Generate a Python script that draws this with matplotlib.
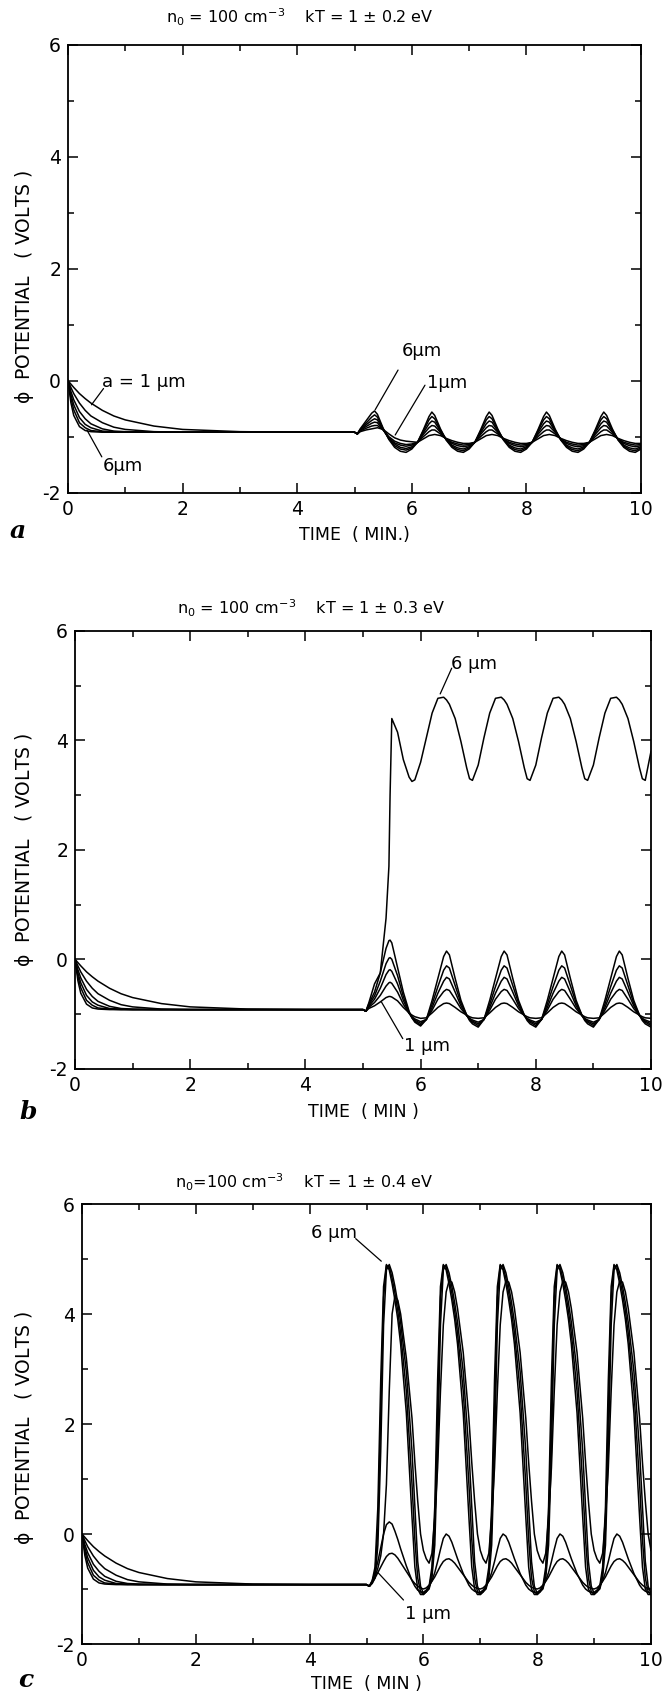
import matplotlib.pyplot as plt

plt.rcParams['font.family'] = ['DejaVu Sans']
plt.rcParams['axes.unicode_minus'] = False
plt.rcParams['mathtext.default'] = 'regular'

# grain radius a = 1 ... 6 um, charging from 0 V (first 5 min are the same in every panel)
DECAY_T = [0, 0.05, 0.1, 0.2, 0.3, 0.4, 0.6, 0.8, 1.0, 1.5, 2.0, 3.0, 4.0, 5.0]
DECAY_1UM = [0, -0.06, -0.12, -0.23, -0.32, -0.40, -0.53, -0.63, -0.70, -0.81, -0.87, -0.91, -0.92, -0.92]
DECAY_2UM = [0, -0.12, -0.23, -0.40, -0.53, -0.63, -0.75, -0.83, -0.87, -0.91, -0.92, -0.92, -0.92, -0.92]
DECAY_3UM = [0, -0.19, -0.34, -0.55, -0.68, -0.77, -0.86, -0.90, -0.91, -0.92, -0.92, -0.92, -0.92, -0.92]
DECAY_4UM = [0, -0.25, -0.43, -0.66, -0.78, -0.84, -0.90, -0.91, -0.92, -0.92, -0.92, -0.92, -0.92, -0.92]
DECAY_5UM = [0, -0.31, -0.52, -0.75, -0.84, -0.89, -0.91, -0.92, -0.92, -0.92, -0.92, -0.92, -0.92, -0.92]
DECAY_6UM = [0, -0.39, -0.62, -0.82, -0.89, -0.91, -0.92, -0.92, -0.92, -0.92, -0.92, -0.92, -0.92, -0.92]

# ---- panel a : kT = 1 +- 0.2 eV ----
OSC_T_A = [5.05,
           5.1, 5.2, 5.3, 5.35, 5.4, 5.5, 5.6, 5.7, 5.8, 5.9, 6.0,
           6.1, 6.2, 6.3, 6.35, 6.4, 6.5, 6.6, 6.7, 6.8, 6.9, 7.0,
           7.1, 7.2, 7.3, 7.35, 7.4, 7.5, 7.6, 7.7, 7.8, 7.9, 8.0,
           8.1, 8.2, 8.3, 8.35, 8.4, 8.5, 8.6, 8.7, 8.8, 8.9, 9.0,
           9.1, 9.2, 9.3, 9.35, 9.4, 9.5, 9.6, 9.7, 9.8, 9.9, 10.0]
OSC_A_1UM = [-0.95,
             -0.91, -0.88, -0.86, -0.85, -0.84, -0.87, -0.95, -1.02, -1.06, -1.08, -1.09,
             -1.10, -1.04, -0.98, -0.97, -0.96, -0.98, -1.03, -1.07, -1.10, -1.12, -1.12,
             -1.10, -1.04, -0.98, -0.97, -0.96, -0.98, -1.03, -1.07, -1.10, -1.12, -1.12,
             -1.10, -1.04, -0.98, -0.97, -0.96, -0.98, -1.03, -1.07, -1.10, -1.12, -1.12,
             -1.10, -1.04, -0.98, -0.97, -0.96, -0.98, -1.03, -1.07, -1.10, -1.12, -1.12]
OSC_A_2UM = [-0.95,
             -0.90, -0.85, -0.81, -0.80, -0.80, -0.88, -1.00, -1.08, -1.12, -1.14, -1.13,
             -1.10, -1.00, -0.91, -0.88, -0.88, -0.95, -1.04, -1.10, -1.13, -1.15, -1.14,
             -1.10, -1.00, -0.91, -0.88, -0.88, -0.95, -1.04, -1.10, -1.13, -1.15, -1.14,
             -1.10, -1.00, -0.91, -0.88, -0.88, -0.95, -1.04, -1.10, -1.13, -1.15, -1.14,
             -1.10, -1.00, -0.91, -0.88, -0.88, -0.95, -1.04, -1.10, -1.13, -1.15, -1.14]
OSC_A_3UM = [-0.95,
             -0.89, -0.82, -0.76, -0.74, -0.75, -0.88, -1.02, -1.11, -1.15, -1.17, -1.15,
             -1.10, -0.96, -0.84, -0.80, -0.81, -0.92, -1.04, -1.12, -1.16, -1.18, -1.16,
             -1.10, -0.96, -0.84, -0.80, -0.81, -0.92, -1.04, -1.12, -1.16, -1.18, -1.16,
             -1.10, -0.96, -0.84, -0.80, -0.81, -0.92, -1.04, -1.12, -1.16, -1.18, -1.16,
             -1.10, -0.96, -0.84, -0.80, -0.81, -0.92, -1.04, -1.12, -1.16, -1.18, -1.16]
OSC_A_4UM = [-0.95,
             -0.88, -0.79, -0.71, -0.68, -0.70, -0.87, -1.03, -1.13, -1.19, -1.21, -1.18,
             -1.10, -0.93, -0.77, -0.72, -0.74, -0.90, -1.05, -1.15, -1.20, -1.22, -1.18,
             -1.10, -0.93, -0.77, -0.72, -0.74, -0.90, -1.05, -1.15, -1.20, -1.22, -1.18,
             -1.10, -0.93, -0.77, -0.72, -0.74, -0.90, -1.05, -1.15, -1.20, -1.22, -1.18,
             -1.10, -0.93, -0.77, -0.72, -0.74, -0.90, -1.05, -1.15, -1.20, -1.22, -1.18]
OSC_A_5UM = [-0.95,
             -0.87, -0.76, -0.65, -0.61, -0.65, -0.86, -1.04, -1.16, -1.22, -1.24, -1.20,
             -1.10, -0.90, -0.70, -0.64, -0.68, -0.88, -1.05, -1.17, -1.23, -1.25, -1.20,
             -1.10, -0.90, -0.70, -0.64, -0.68, -0.88, -1.05, -1.17, -1.23, -1.25, -1.20,
             -1.10, -0.90, -0.70, -0.64, -0.68, -0.88, -1.05, -1.17, -1.23, -1.25, -1.20,
             -1.10, -0.90, -0.70, -0.64, -0.68, -0.88, -1.05, -1.17, -1.23, -1.25, -1.20]
OSC_A_6UM = [-0.95,
             -0.86, -0.72, -0.58, -0.54, -0.60, -0.85, -1.05, -1.19, -1.26, -1.28, -1.22,
             -1.10, -0.88, -0.64, -0.56, -0.62, -0.86, -1.06, -1.19, -1.26, -1.28, -1.22,
             -1.10, -0.88, -0.64, -0.56, -0.62, -0.86, -1.06, -1.19, -1.26, -1.28, -1.22,
             -1.10, -0.88, -0.64, -0.56, -0.62, -0.86, -1.06, -1.19, -1.26, -1.28, -1.22,
             -1.10, -0.88, -0.64, -0.56, -0.62, -0.86, -1.06, -1.19, -1.26, -1.28, -1.22]

# ---- panel b : kT = 1 +- 0.3 eV ----
OSC_T_B = [5.05,
           5.1, 5.2, 5.3, 5.4, 5.45, 5.47, 5.5, 5.6, 5.7, 5.8, 5.85, 5.9, 6.0,
           6.1, 6.2, 6.3, 6.4, 6.45, 6.5, 6.6, 6.7, 6.8, 6.85, 6.9, 7.0,
           7.1, 7.2, 7.3, 7.4, 7.45, 7.5, 7.6, 7.7, 7.8, 7.85, 7.9, 8.0,
           8.1, 8.2, 8.3, 8.4, 8.45, 8.5, 8.6, 8.7, 8.8, 8.85, 8.9, 9.0,
           9.1, 9.2, 9.3, 9.4, 9.45, 9.5, 9.6, 9.7, 9.8, 9.85, 9.9, 10.0]
OSC_B_1UM = [-0.95,
             -0.90, -0.85, -0.78, -0.70, -0.68, -0.68, -0.69, -0.76, -0.88, -0.98, -1.02, -1.05, -1.08,
             -1.07, -0.98, -0.88, -0.81, -0.80, -0.81, -0.88, -0.96, -1.02, -1.05, -1.07, -1.08,
             -1.07, -0.98, -0.88, -0.81, -0.80, -0.81, -0.88, -0.96, -1.02, -1.05, -1.07, -1.08,
             -1.07, -0.98, -0.88, -0.81, -0.80, -0.81, -0.88, -0.96, -1.02, -1.05, -1.07, -1.08,
             -1.07, -0.98, -0.88, -0.81, -0.80, -0.81, -0.88, -0.96, -1.02, -1.05, -1.07, -1.08]
OSC_B_2UM = [-0.95,
             -0.88, -0.79, -0.66, -0.49, -0.43, -0.42, -0.44, -0.60, -0.82, -0.99, -1.05, -1.09, -1.14,
             -1.10, -0.93, -0.73, -0.59, -0.55, -0.57, -0.73, -0.90, -1.03, -1.08, -1.11, -1.15,
             -1.10, -0.93, -0.73, -0.59, -0.55, -0.57, -0.73, -0.90, -1.03, -1.08, -1.11, -1.15,
             -1.10, -0.93, -0.73, -0.59, -0.55, -0.57, -0.73, -0.90, -1.03, -1.08, -1.11, -1.15,
             -1.10, -0.93, -0.73, -0.59, -0.55, -0.57, -0.73, -0.90, -1.03, -1.08, -1.11, -1.15]
OSC_B_3UM = [-0.95,
             -0.86, -0.73, -0.53, -0.28, -0.20, -0.19, -0.22, -0.45, -0.75, -0.98, -1.06, -1.11, -1.17,
             -1.10, -0.88, -0.62, -0.40, -0.33, -0.36, -0.60, -0.85, -1.03, -1.09, -1.13, -1.18,
             -1.10, -0.88, -0.62, -0.40, -0.33, -0.36, -0.60, -0.85, -1.03, -1.09, -1.13, -1.18,
             -1.10, -0.88, -0.62, -0.40, -0.33, -0.36, -0.60, -0.85, -1.03, -1.09, -1.13, -1.18,
             -1.10, -0.88, -0.62, -0.40, -0.33, -0.36, -0.60, -0.85, -1.03, -1.09, -1.13, -1.18]
OSC_B_4UM = [-0.95,
             -0.84, -0.67, -0.40, -0.08, 0.02, 0.03, 0.00, -0.30, -0.68, -0.97, -1.07, -1.13, -1.20,
             -1.10, -0.82, -0.50, -0.20, -0.12, -0.16, -0.48, -0.80, -1.02, -1.10, -1.15, -1.21,
             -1.10, -0.82, -0.50, -0.20, -0.12, -0.16, -0.48, -0.80, -1.02, -1.10, -1.15, -1.21,
             -1.10, -0.82, -0.50, -0.20, -0.12, -0.16, -0.48, -0.80, -1.02, -1.10, -1.15, -1.21,
             -1.10, -0.82, -0.50, -0.20, -0.12, -0.16, -0.48, -0.80, -1.02, -1.10, -1.15, -1.21]
OSC_B_5UM = [-0.95,
             -0.82, -0.60, -0.25, 0.20, 0.34, 0.35, 0.30, -0.15, -0.60, -0.95, -1.07, -1.15, -1.22,
             -1.10, -0.75, -0.35, 0.05, 0.15, 0.08, -0.35, -0.75, -1.02, -1.12, -1.18, -1.24,
             -1.10, -0.75, -0.35, 0.05, 0.15, 0.08, -0.35, -0.75, -1.02, -1.12, -1.18, -1.24,
             -1.10, -0.75, -0.35, 0.05, 0.15, 0.08, -0.35, -0.75, -1.02, -1.12, -1.18, -1.24,
             -1.10, -0.75, -0.35, 0.05, 0.15, 0.08, -0.35, -0.75, -1.02, -1.12, -1.18, -1.24]
OSC_B_6UM = [-0.95,
             -0.80, -0.45, -0.25, 0.75, 1.70, 3.00, 4.40, 4.15, 3.65, 3.33, 3.25, 3.28, 3.60,
             4.05, 4.50, 4.77, 4.79, 4.74, 4.66, 4.40, 3.98, 3.50, 3.30, 3.27, 3.55,
             4.05, 4.50, 4.77, 4.79, 4.74, 4.66, 4.40, 3.98, 3.50, 3.30, 3.27, 3.55,
             4.05, 4.50, 4.77, 4.79, 4.74, 4.66, 4.40, 3.98, 3.50, 3.30, 3.27, 3.55,
             4.05, 4.50, 4.77, 4.79, 4.74, 4.66, 4.40, 3.98, 3.50, 3.30, 3.27, 3.80]

# ---- panel c : kT = 1 +- 0.4 eV ----
OSC_T_C = [5.05, 5.1, 5.15, 5.2, 5.25, 5.3, 5.35, 5.4, 5.45, 5.5, 5.55, 5.6, 5.7, 5.8, 5.85, 5.9, 5.95, 6.0,
           6.05, 6.1, 6.15, 6.2, 6.25, 6.3, 6.35, 6.4, 6.45, 6.5, 6.55, 6.6, 6.7, 6.8, 6.85, 6.9, 6.95, 7.0,
           7.05, 7.1, 7.15, 7.2, 7.25, 7.3, 7.35, 7.4, 7.45, 7.5, 7.55, 7.6, 7.7, 7.8, 7.85, 7.9, 7.95, 8.0,
           8.05, 8.1, 8.15, 8.2, 8.25, 8.3, 8.35, 8.4, 8.45, 8.5, 8.55, 8.6, 8.7, 8.8, 8.85, 8.9, 8.95, 9.0,
           9.05, 9.1, 9.15, 9.2, 9.25, 9.3, 9.35, 9.4, 9.45, 9.5, 9.55, 9.6, 9.7, 9.8, 9.85, 9.9, 9.95, 10.0]
OSC_C_1UM = [-0.95, -0.88, -0.80, -0.70, -0.60, -0.50, -0.41, -0.36, -0.35, -0.38, -0.44, -0.52, -0.68, -0.84, -0.90, -0.95, -0.98, -1.00,
             -0.98, -0.93, -0.86, -0.78, -0.68, -0.58, -0.50, -0.46, -0.45, -0.48, -0.53, -0.60, -0.74, -0.88, -0.93, -0.97, -0.99, -1.00,
             -0.98, -0.93, -0.86, -0.78, -0.68, -0.58, -0.50, -0.46, -0.45, -0.48, -0.53, -0.60, -0.74, -0.88, -0.93, -0.97, -0.99, -1.00,
             -0.98, -0.93, -0.86, -0.78, -0.68, -0.58, -0.50, -0.46, -0.45, -0.48, -0.53, -0.60, -0.74, -0.88, -0.93, -0.97, -0.99, -1.00,
             -0.98, -0.93, -0.86, -0.78, -0.68, -0.58, -0.50, -0.46, -0.45, -0.48, -0.53, -0.60, -0.74, -0.88, -0.93, -0.97, -0.99, -1.00]
OSC_C_2UM = [-0.95, -0.85, -0.70, -0.50, -0.25, 0.00, 0.17, 0.22, 0.18, 0.05, -0.10, -0.27, -0.58, -0.85, -0.95, -1.02, -1.05, -1.06,
             -1.02, -0.95, -0.85, -0.70, -0.50, -0.28, -0.08, 0.00, -0.04, -0.15, -0.30, -0.45, -0.72, -0.93, -1.00, -1.04, -1.06, -1.06,
             -1.02, -0.95, -0.85, -0.70, -0.50, -0.28, -0.08, 0.00, -0.04, -0.15, -0.30, -0.45, -0.72, -0.93, -1.00, -1.04, -1.06, -1.06,
             -1.02, -0.95, -0.85, -0.70, -0.50, -0.28, -0.08, 0.00, -0.04, -0.15, -0.30, -0.45, -0.72, -0.93, -1.00, -1.04, -1.06, -1.06,
             -1.02, -0.95, -0.85, -0.70, -0.50, -0.28, -0.08, 0.00, -0.04, -0.15, -0.30, -0.45, -0.72, -0.93, -1.00, -1.04, -1.06, -1.06]
OSC_C_3UM = [-0.95, -0.88, -0.78, -0.62, -0.40, 0.00, 0.90, 2.60, 4.00, 4.33, 4.25, 4.00, 3.20, 2.10, 1.30, 0.60, 0.00, -0.30,
             -0.45, -0.53, -0.35, 0.30, 1.20, 2.60, 3.80, 4.40, 4.60, 4.58, 4.40, 4.10, 3.30, 2.10, 1.30, 0.60, 0.00, -0.30,
             -0.45, -0.53, -0.35, 0.30, 1.20, 2.60, 3.80, 4.40, 4.60, 4.58, 4.40, 4.10, 3.30, 2.10, 1.30, 0.60, 0.00, -0.30,
             -0.45, -0.53, -0.35, 0.30, 1.20, 2.60, 3.80, 4.40, 4.60, 4.58, 4.40, 4.10, 3.30, 2.10, 1.30, 0.60, 0.00, -0.30,
             -0.45, -0.53, -0.35, 0.30, 1.20, 2.60, 3.80, 4.40, 4.60, 4.58, 4.40, 4.10, 3.30, 2.10, 1.30, 0.60, 0.00, -0.30]
OSC_C_4UM = [-0.95, -0.90, -0.80, -0.20, 1.50, 3.80, 4.80, 4.90, 4.75, 4.50, 4.20, 3.85, 2.95, 1.50, 0.50, -0.50, -0.95, -1.08,
             -1.05, -1.00, -0.80, -0.20, 1.50, 3.80, 4.80, 4.90, 4.75, 4.50, 4.20, 3.85, 2.95, 1.50, 0.50, -0.50, -0.95, -1.08,
             -1.05, -1.00, -0.80, -0.20, 1.50, 3.80, 4.80, 4.90, 4.75, 4.50, 4.20, 3.85, 2.95, 1.50, 0.50, -0.50, -0.95, -1.08,
             -1.05, -1.00, -0.80, -0.20, 1.50, 3.80, 4.80, 4.90, 4.75, 4.50, 4.20, 3.85, 2.95, 1.50, 0.50, -0.50, -0.95, -1.08,
             -1.05, -1.00, -0.80, -0.20, 1.50, 3.80, 4.80, 4.90, 4.75, 4.50, 4.20, 3.85, 2.95, 1.50, 0.50, -0.50, -0.95, -1.08]
OSC_C_5UM = [-0.95, -0.88, -0.70, 0.10, 2.20, 4.30, 4.88, 4.86, 4.65, 4.38, 4.05, 3.65, 2.60, 0.90, -0.10, -0.80, -1.05, -1.10,
             -1.05, -0.98, -0.70, 0.10, 2.20, 4.30, 4.88, 4.86, 4.65, 4.38, 4.05, 3.65, 2.60, 0.90, -0.10, -0.80, -1.05, -1.10,
             -1.05, -0.98, -0.70, 0.10, 2.20, 4.30, 4.88, 4.86, 4.65, 4.38, 4.05, 3.65, 2.60, 0.90, -0.10, -0.80, -1.05, -1.10,
             -1.05, -0.98, -0.70, 0.10, 2.20, 4.30, 4.88, 4.86, 4.65, 4.38, 4.05, 3.65, 2.60, 0.90, -0.10, -0.80, -1.05, -1.10,
             -1.05, -0.98, -0.70, 0.10, 2.20, 4.30, 4.88, 4.86, 4.65, 4.38, 4.05, 3.65, 2.60, 0.90, -0.10, -0.80, -1.05, -1.10]
OSC_C_6UM = [-0.95, -0.85, -0.60, 0.50, 2.80, 4.50, 4.90, 4.80, 4.55, 4.25, 3.90, 3.45, 2.20, 0.30, -0.60, -1.00, -1.10, -1.10,
             -1.05, -0.95, -0.60, 0.50, 2.80, 4.50, 4.90, 4.80, 4.55, 4.25, 3.90, 3.45, 2.20, 0.30, -0.60, -1.00, -1.10, -1.10,
             -1.05, -0.95, -0.60, 0.50, 2.80, 4.50, 4.90, 4.80, 4.55, 4.25, 3.90, 3.45, 2.20, 0.30, -0.60, -1.00, -1.10, -1.10,
             -1.05, -0.95, -0.60, 0.50, 2.80, 4.50, 4.90, 4.80, 4.55, 4.25, 3.90, 3.45, 2.20, 0.30, -0.60, -1.00, -1.10, -1.10,
             -1.05, -0.95, -0.60, 0.50, 2.80, 4.50, 4.90, 4.80, 4.55, 4.25, 3.90, 3.45, 2.20, 0.30, -0.60, -1.00, -1.10, -1.10]

DECAYS = [DECAY_1UM, DECAY_2UM, DECAY_3UM, DECAY_4UM, DECAY_5UM, DECAY_6UM]

TITLES = [r'n$_0$ = 100 cm$^{-3}$    kT = 1 $\pm$ 0.2 eV',
          r'n$_0$ = 100 cm$^{-3}$    kT = 1 $\pm$ 0.3 eV',
          r'n$_0$=100 cm$^{-3}$    kT = 1 $\pm$ 0.4 eV']
XLABELS = ['TIME  ( MIN.)', 'TIME  ( MIN )', 'TIME  ( MIN )']
LETTERS = ['a', 'b', 'c']


def draw_panel(ax, osc_t, osc_curves, title, xlabel, letter, lay):
  times = DECAY_T + osc_t
  for decay, osc in zip(DECAYS, osc_curves):
    ax.plot(times, decay + osc, color='black', lw=1.1, solid_joinstyle='round')

  ax.set_xlim(0, 10)
  ax.set_ylim(-2, 6)
  ax.set_xticks(range(0, 11, 2))
  ax.set_xticks(range(1, 10, 2), minor=True)
  ax.set_yticks(range(-2, 7, 2))
  ax.set_yticks(range(-1, 6, 2), minor=True)
  ax.tick_params(which='both', direction='in', top=True, right=True,
                 width=1.1, labelsize=13.5, pad=5)
  ax.tick_params(which='major', length=7)
  ax.tick_params(which='minor', length=4.5)
  for s in ax.spines.values():
    s.set_linewidth(1.3)

  # titles
  ax.text(lay['title_x'], lay['title_y'], title, transform=ax.transAxes,
          ha='center', va='center', fontsize=11.5)
  ax.text(0.5, lay['xlab_y'], xlabel, transform=ax.transAxes,
          ha='center', va='center', fontsize=12.5)
  ax.text(lay['ylab_x'], lay['ylab_y'], r'$\phi$  POTENTIAL   ( VOLTS )',
          transform=ax.transAxes, rotation=90, ha='center', va='center', fontsize=13.5)
  ax.text(lay['let_x'], lay['let_y'], letter, transform=ax.transAxes,
          ha='center', va='center', fontsize=18, fontweight='bold',
          fontstyle='italic', family='DejaVu Serif')


def label(ax, text, xy_text, start, end, ha='left'):
  ax.text(xy_text[0], xy_text[1], text, ha=ha, va='center', fontsize=13)
  ax.annotate('', xy=end, xytext=start,
              arrowprops=dict(arrowstyle='-', lw=0.9, color='black',
                              shrinkA=0, shrinkB=0))


fig = plt.figure(figsize=(6.72, 16.93), dpi=100)
H = 1693.0
W = 672.0
ax_a = fig.add_axes([68 / W, 1 - 492.7 / H, 573 / W, 448 / H])
ax_b = fig.add_axes([75 / W, 1 - 1068.7 / H, 576 / W, 437.7 / H])
ax_c = fig.add_axes([82 / W, 1 - 1644 / H, 569 / W, 440 / H])

draw_panel(ax_a, OSC_T_A,
           [OSC_A_1UM, OSC_A_2UM, OSC_A_3UM, OSC_A_4UM, OSC_A_5UM, OSC_A_6UM],
           TITLES[0], XLABELS[0], LETTERS[0],
           dict(title_x=0.405, title_y=1.062, xlab_y=-0.094, ylab_x=-0.076,
                ylab_y=0.46, let_x=-0.087, let_y=-0.085))
draw_panel(ax_b, OSC_T_B,
           [OSC_B_1UM, OSC_B_2UM, OSC_B_3UM, OSC_B_4UM, OSC_B_5UM, OSC_B_6UM],
           TITLES[1], XLABELS[1], LETTERS[1],
           dict(title_x=0.411, title_y=1.053, xlab_y=-0.099, ylab_x=-0.0875,
                ylab_y=0.50, let_x=-0.081, let_y=-0.099))
draw_panel(ax_c, OSC_T_C,
           [OSC_C_1UM, OSC_C_2UM, OSC_C_3UM, OSC_C_4UM, OSC_C_5UM, OSC_C_6UM],
           TITLES[2], XLABELS[2], LETTERS[2],
           dict(title_x=0.39, title_y=1.05, xlab_y=-0.092, ylab_x=-0.1016,
                ylab_y=0.49, let_x=-0.098, let_y=-0.082))

# size labels
label(ax_a, 'a = 1 μm', (0.6, -0.02), (0.62, -0.14), (0.41, -0.43))
label(ax_a, '6μm', (0.6, -1.53), (0.59, -1.36), (0.33, -0.88))
label(ax_a, '6μm', (5.83, 0.53), (5.76, 0.19), (5.36, -0.52))
label(ax_a, '1μm', (6.27, -0.04), (6.23, -0.08), (5.71, -0.97))
label(ax_b, '6 μm', (6.52, 5.4), (6.54, 5.32), (6.34, 4.85))
label(ax_b, '1 μm', (5.72, -1.58), (5.69, -1.45), (5.32, -0.78))
label(ax_c, '6 μm', (4.43, 5.48), (4.81, 5.37), (5.26, 4.96), ha='center')
label(ax_c, '1 μm', (5.68, -1.45), (5.65, -1.2), (5.2, -0.7))

fig.savefig('out.png', dpi=100)
